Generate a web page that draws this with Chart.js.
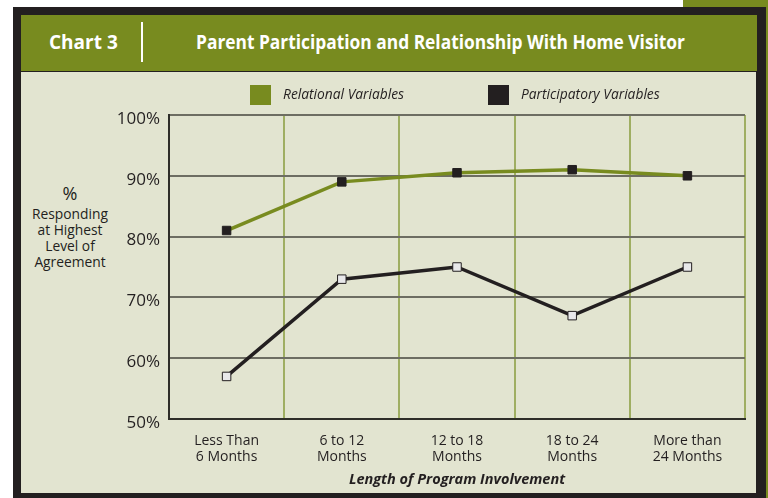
<!DOCTYPE html>
<html>
<head>
<meta charset="utf-8">
<script src="https://cdn.jsdelivr.net/npm/chart.js@4.4.0/dist/chart.umd.min.js"></script>
<style>
  html, body { margin: 0; padding: 0; background: #fff; }
  body { width: 768px; height: 498px; position: relative; overflow: hidden; font-family: 'Open Sans', sans-serif; }
  #corner { position: absolute; left: 683px; top: 0; width: 85px; height: 8px; background: #788b1f; }
  #strip { position: absolute; left: 765px; top: 0; width: 3px; height: 498px; background: #788b1f; }
  #frame { position: absolute; left: 13px; top: 7px; width: 753px; height: 500px; background: #231f20; }
  #header { position: absolute; left: 21px; top: 15px; width: 736px; height: 56px; background: #788b1f; }
  #panel { position: absolute; left: 21px; top: 72px; width: 735px; height: 421px; background: #e2e4d0; }
  .hd { position: absolute; color: #fff; font-weight: 700; font-size: 19px; line-height: 26px; white-space: nowrap; }
  #chartNo { left: 49px; top: 29px; }
  #divider { position: absolute; left: 141px; top: 22px; width: 2px; height: 40px; background: #fff; }
  #title { left: 196px; top: 29px; transform-origin: 0 50%; }
  #ytitle { position: absolute; left: 20px; top: 182px; width: 100px; text-align: center; color: #231f20; font-size: 13.8px; line-height: 16px; }
  #ytitle .pct { font-size: 18px; line-height: 22px; display: block; margin-bottom: 2px; }
  canvas { position: absolute; left: 0; top: 0; }
</style>
</head>
<body>
<div id="corner"></div>
<div id="strip"></div>
<div id="frame"></div>
<div id="header"></div>
<div id="panel"></div>
<div class="hd" id="chartNo">Chart 3</div>
<div id="divider"></div>
<div class="hd" id="title">Parent Participation and Relationship With Home Visitor</div>
<div id="ytitle"><span class="pct">%</span>Responding<br>at Highest<br>Level of<br>Agreement</div>
<canvas id="chart" width="768" height="498"></canvas>
<script>
const categories = [
    ['Less Than', '6 Months'],
    ['6 to 12', 'Months'],
    ['12 to 18', 'Months'],
    ['18 to 24', 'Months'],
    ['More than', '24 Months']
];
const relational = [81, 89, 90.5, 91, 90];
const participatory = [57, 73, 75, 67, 75];
const seriesNames = ['Relational Variables', 'Participatory Variables'];
const yMin = 50;
const yMax = 100;
const yStep = 10;

const GREEN = '#788b1f';
const DARK = '#231f20';

// squeeze the header title to the width it has in the original
const title = document.getElementById('title');
const mctx = document.createElement('canvas').getContext('2d');
mctx.font = '700 19px "Open Sans"';
title.style.transform = 'scaleX(' + (489 / mctx.measureText(title.textContent).width) + ')';

// legend drawn by hand so the boxes sit where the original has them
const legendPlugin = {
    id: 'customLegend',
    afterDraw(chart) {
        const ctx = chart.ctx;
        const left = chart.chartArea.left;
        const spots = [left + 81, left + 319];
        ctx.save();
        ctx.font = 'italic 13.8px "Open Sans"';
        ctx.textBaseline = 'middle';
        chart.data.datasets.forEach((ds, i) => {
            const x = spots[i];
            ctx.fillStyle = ds.legendColor;
            ctx.fillRect(x, 85, 21, 20);
            ctx.fillStyle = DARK;
            ctx.fillText(ds.label, x + 33, 95);
        });
        ctx.restore();
    }
};

Chart.defaults.font.family = "'Open Sans', sans-serif";

new Chart(document.getElementById('chart').getContext('2d'), {
    type: 'line',
    data: {
        labels: categories,
        datasets: [{
            label: seriesNames[0],
            data: relational,
            borderColor: GREEN,
            borderWidth: 3.5,
            legendColor: GREEN,
            pointStyle: 'rect',
            pointRadius: 6,
            pointBackgroundColor: DARK,
            pointBorderColor: DARK,
            pointBorderWidth: 1,
            tension: 0
        }, {
            label: seriesNames[1],
            data: participatory,
            borderColor: DARK,
            borderWidth: 3.5,
            legendColor: DARK,
            pointStyle: 'rect',
            pointRadius: 6,
            pointBackgroundColor: '#e8e8ea',
            pointBorderColor: DARK,
            pointBorderWidth: 1,
            tension: 0
        }]
    },
    options: {
        responsive: false,
        animation: false,
        layout: { padding: { left: 0, top: 115, right: 23, bottom: 0 } },
        plugins: {
            legend: { display: false },
            tooltip: { enabled: false }
        },
        scales: {
            x: {
                offset: true,
                grid: { color: '#9fae62', lineWidth: 2, drawTicks: false, offset: true },
                border: { color: '#2e2d29', width: 2 },
                ticks: { color: DARK, font: { size: 14, lineHeight: 1.15 }, padding: 14, maxRotation: 0 },
                title: {
                    display: true,
                    text: 'Length of Program Involvement',
                    color: DARK,
                    font: { size: 14.5, weight: 'bold', style: 'italic' },
                    padding: { top: 0, bottom: 9 }
                },
                afterFit: s => { s.height = 79; }
            },
            y: {
                min: yMin,
                max: yMax,
                ticks: { stepSize: yStep, callback: v => v + '%', color: DARK, font: { size: 17 }, padding: 9, labelOffset: 4 },
                grid: { color: '#6d6d62', lineWidth: 2, drawTicks: false },
                border: { color: '#2e2d29', width: 2 },
                afterFit: s => { s.width = 169; }
            }
        }
    },
    plugins: [legendPlugin]
});
</script>
</body>
</html>
